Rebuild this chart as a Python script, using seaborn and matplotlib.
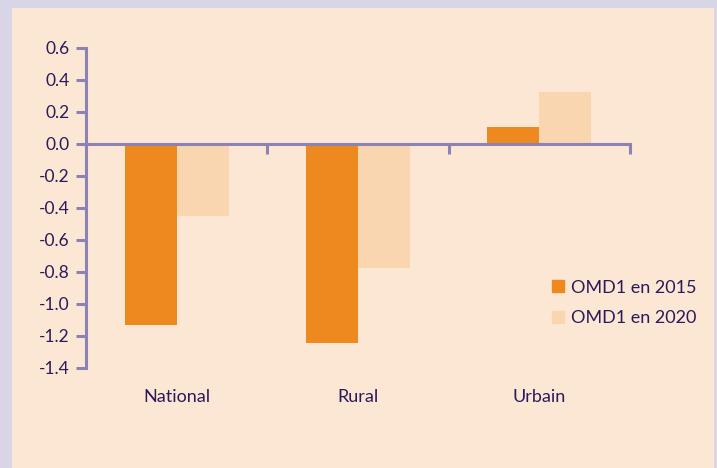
import matplotlib
matplotlib.use("Agg")
import matplotlib.pyplot as plt
import matplotlib.patches as mpatches
import matplotlib.transforms as mtransforms
import seaborn as sns
import pandas as pd

categories = ["National", "Rural", "Urbain"]
series = ["OMD1 en 2015", "OMD1 en 2020"]
values_2015 = [-1.13, -1.245, 0.106]
values_2020 = [-0.45, -0.775, 0.325]
yticks = [0.6, 0.4, 0.2, 0.0, -0.2, -0.4, -0.6, -0.8, -1.0, -1.2, -1.4]

orange = "#ED891E"
light = "#F9D6B0"
peach = "#FCE7D5"
border = "#D8D6E6"
axis_col = "#8C82B4"
text_col = "#2B1A5A"

df = pd.DataFrame({
    "cat": categories * 2,
    "serie": [series[0]] * 3 + [series[1]] * 3,
    "val": values_2015 + values_2020,
})

sns.set_theme(style="white")
plt.rcParams["font.family"] = ["Lato", "DejaVu Sans"]

fig = plt.figure(figsize=(7.17, 4.68), dpi=100)
fig.patch.set_facecolor(border)
fig.patches.append(mpatches.Rectangle((12 / 717, 0), 702 / 717, 460 / 468,
                                      transform=fig.transFigure, facecolor=peach,
                                      edgecolor="none", zorder=0))

ax = fig.add_axes([86 / 717, 1 - 368 / 468, 544 / 717, 320 / 468])
ax.set_zorder(2)
ax.set_facecolor("none")
sns.barplot(data=df, x="cat", y="val", hue="serie", palette=[orange, light],
            width=0.575, ax=ax, saturation=1, legend=False,
            edgecolor="none", linewidth=0)

ax.set_xlim(-0.5, 2.5)
ax.set_ylim(-1.4, 0.6)
ax.set_yticks(yticks)
ax.set_yticklabels([f"{v:.1f}" for v in yticks], color=text_col, fontsize=12.5)
ax.set_xticks([0.5, 1.5, 2.5])
ax.set_xticklabels([])
ax.tick_params(axis="y", direction="out", length=7, width=2.2, color=axis_col, pad=5, left=True)
ax.tick_params(axis="x", direction="out", length=7, width=2.2, color=axis_col, bottom=True)

for s in ["top", "right"]:
    ax.spines[s].set_visible(False)
ax.spines["left"].set_color(axis_col)
ax.spines["left"].set_linewidth(2.2)
ax.spines["bottom"].set_color(axis_col)
ax.spines["bottom"].set_linewidth(2.2)
ax.spines["bottom"].set_position(("data", 0))
ax.set_xlabel("")
ax.set_ylabel("")

trans = mtransforms.blended_transform_factory(ax.transData, fig.transFigure)
for i, c in enumerate(categories):
    ax.text(i, 1 - 397 / 468, c, transform=trans, ha="center", va="center",
            color=text_col, fontsize=13)

handles = [mpatches.Patch(color=orange, label=series[0]),
           mpatches.Patch(color=light, label=series[1])]
leg = fig.legend(handles=handles, loc="center left", bbox_to_anchor=(536 / 717, 1 - 303 / 468),
                 frameon=False, fontsize=13, labelcolor=text_col, handlelength=0.65,
                 handleheight=0.65, handletextpad=0.4, labelspacing=0.8)
leg.set_zorder(3)

fig.savefig("out.png", dpi=100, facecolor=fig.get_facecolor())
